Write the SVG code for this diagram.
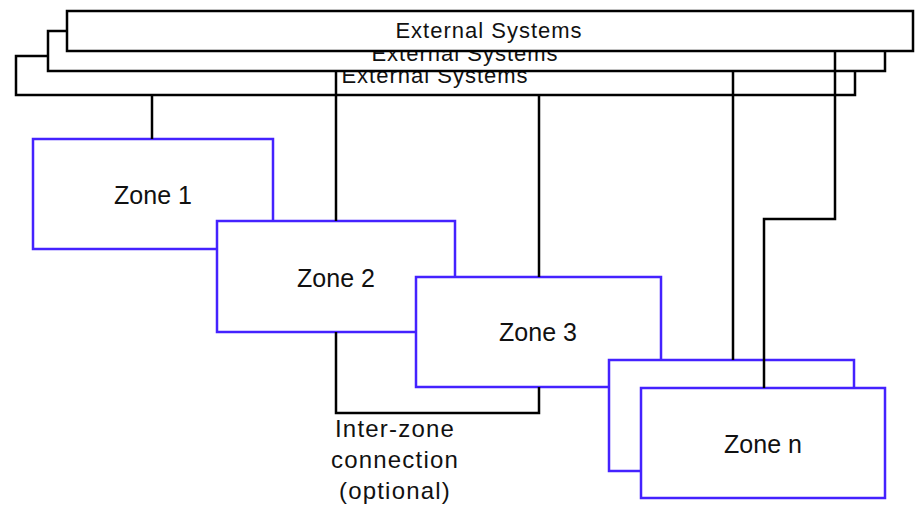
<svg xmlns="http://www.w3.org/2000/svg" width="917" height="509" viewBox="0 0 917 509">
  <style>
    .ext rect { fill: #fff; stroke: #000; stroke-width: 2.5; }
    .ext text { font-family: "Liberation Sans", Arial, sans-serif; font-size: 22px; letter-spacing: 1px; fill: #111; text-anchor: middle; }
    .zone rect { fill: #fff; stroke: #4422ff; stroke-width: 2.5; }
    .zone text { font-family: "Liberation Sans", Arial, sans-serif; font-size: 25px; fill: #111; text-anchor: middle; }
    .wire { fill: none; stroke: #000; stroke-width: 2.5; }
    .note { font-family: "Liberation Sans", Arial, sans-serif; font-size: 24px; letter-spacing: 1.2px; fill: #111; text-anchor: middle; }
  </style>

  <!-- stacked external systems, back to front -->
  <g id="ext-3" class="ext">
    <rect x="16" y="56" width="839" height="39"/>
    <text x="435" y="83">External Systems</text>
  </g>
  <g id="ext-2" class="ext">
    <rect x="48" y="31" width="837" height="40"/>
    <text x="465" y="61">External Systems</text>
  </g>
  <g id="ext-1" class="ext">
    <rect x="67" y="11" width="846" height="40"/>
    <text x="489" y="38">External Systems</text>
  </g>

  <!-- zones, each overlapping the previous one -->
  <g id="zone-1" class="zone">
    <rect x="33" y="139" width="240" height="110"/>
    <text x="153" y="204">Zone 1</text>
  </g>
  <g id="zone-2" class="zone">
    <rect x="217" y="221" width="238" height="111"/>
    <text x="336" y="287">Zone 2</text>
  </g>
  <g id="zone-3" class="zone">
    <rect x="416" y="277" width="245" height="110"/>
    <text x="538" y="341">Zone 3</text>
  </g>
  <g id="zone-n-back" class="zone">
    <rect x="609" y="360" width="245" height="111"/>
  </g>
  <g id="zone-n" class="zone">
    <rect x="641" y="388" width="244" height="110"/>
    <text x="763" y="453">Zone n</text>
  </g>

  <!-- connectors -->
  <g id="connectors" class="wire">
    <path d="M152 95 V139"/>
    <path d="M336 71 V221"/>
    <path d="M539 95 V277"/>
    <path d="M733 71 V360"/>
    <path d="M835 51 V219 H764 V388"/>
    <path d="M336 332 V413 H539 V387"/>
  </g>

  <g id="inter-zone-label" class="note">
    <text x="395" y="437">Inter-zone</text>
    <text x="395" y="468">connection</text>
    <text x="395" y="499">(optional)</text>
  </g>
</svg>
